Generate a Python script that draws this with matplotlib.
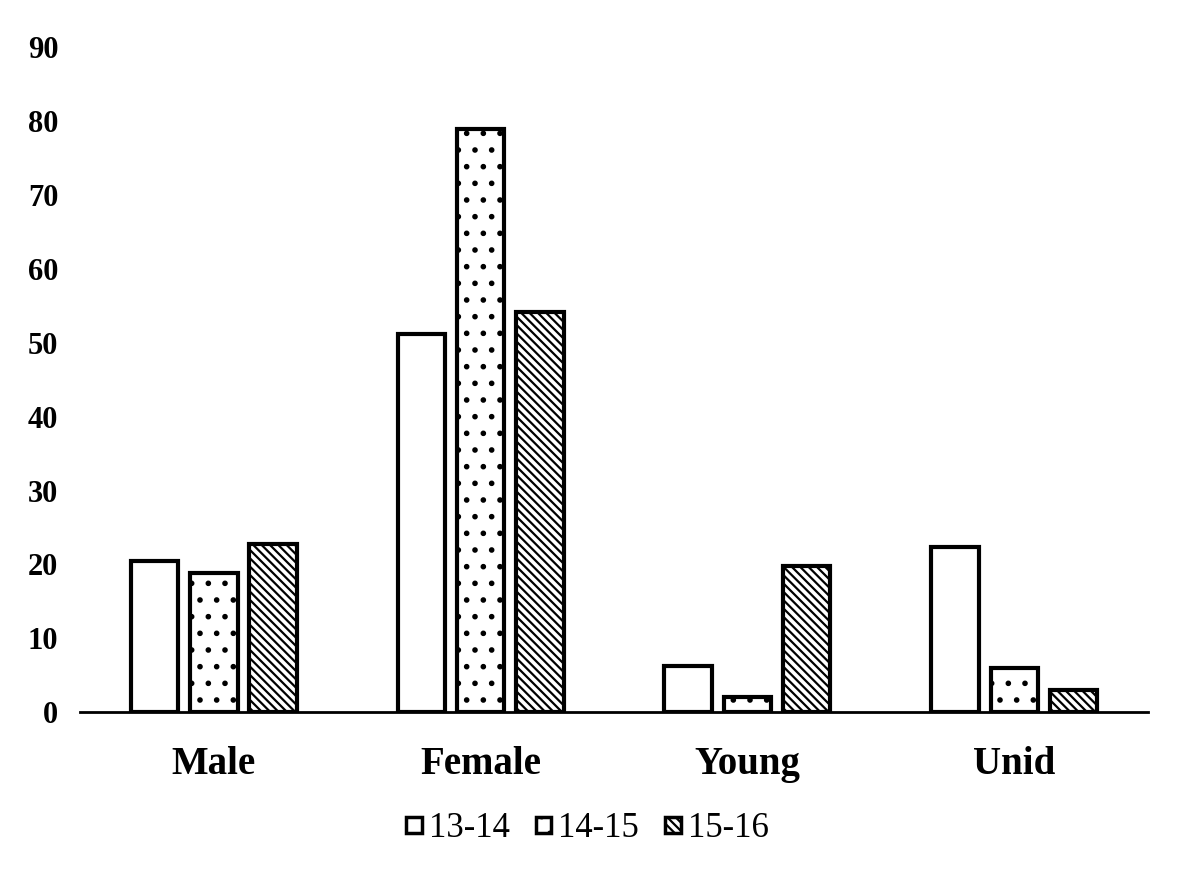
import numpy as np
import matplotlib.pyplot as plt
import matplotlib.patches as mpatches
from matplotlib.container import BarContainer
from matplotlib.legend_handler import HandlerPatch, update_from_first_child

plt.rcParams['font.family'] = 'Liberation Serif'
plt.rcParams['hatch.linewidth'] = 1.6

categories = ['Male', 'Female', 'Young', 'Unid']
series = ['13-14', '14-15', '15-16']
v1314 = [20.5, 51.2, 6.3, 22.3]
v1415 = [18.8, 79.0, 2.0, 6.0]
v1516 = [22.8, 54.2, 19.8, 3.0]
yticks = [0, 10, 20, 30, 40, 50, 60, 70, 80, 90]

fig = plt.figure(figsize=(11.82, 8.75), dpi=100)
ax = fig.add_axes([0.068, 0.186, 0.903, 0.76])

x = np.arange(len(categories))
w = 0.178
step = 0.222
hatches = ['', '.', '\\\\\\\\']
for i, (vals, h, lab) in enumerate(zip([v1314, v1415, v1516], hatches, series)):
    ax.bar(x + (i - 1) * step, vals, w, facecolor='white', edgecolor='black',
           linewidth=3, hatch=h, label=lab)

ax.set_xlim(-0.5, 3.5)
ax.set_ylim(0, 90)
ax.set_yticks(yticks)
ax.set_xticks(x)
ax.set_xticklabels(categories, fontsize=28, fontweight='bold')
ax.tick_params(axis='y', length=0, pad=16, labelsize=22)
ax.tick_params(axis='x', length=0, pad=24)
for t in ax.get_yticklabels():
    t.set_fontweight('bold')

for s in ['top', 'right', 'left']:
    ax.spines[s].set_visible(False)
ax.spines['bottom'].set_linewidth(2)


# small square legend keys
def square(legend, orig_handle, xdescent, ydescent, width, height, fontsize):
    s = min(width, height)
    return mpatches.Rectangle((-xdescent, -ydescent + (height - s) / 2), s, s)


leg = fig.legend(loc='center', bbox_to_anchor=(0.497, 0.053), ncol=3, frameon=False,
                 fontsize=25, handlelength=0.45, handleheight=0.7,
                 handletextpad=0.2, columnspacing=0.75,
                 handler_map={BarContainer: HandlerPatch(patch_func=square,
                                                         update_func=update_from_first_child)})
for p in leg.legend_handles:
    p.set_linewidth(2.5)

fig.savefig('out.png', dpi=100)
